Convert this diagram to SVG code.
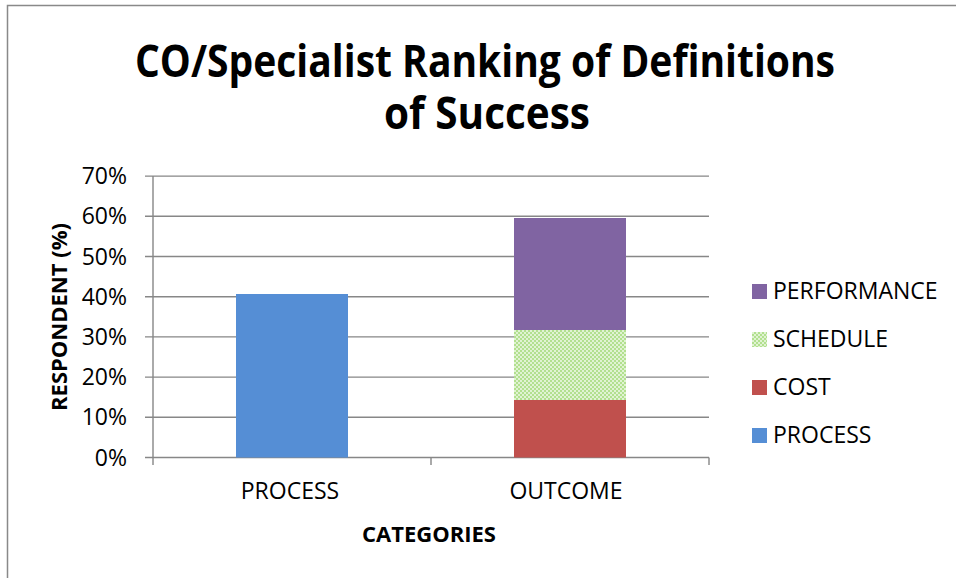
<svg xmlns="http://www.w3.org/2000/svg" width="956" height="578" viewBox="0 0 956 578">
<defs>
<style>
.t{font-family:"Open Sans","Liberation Sans",sans-serif;fill:#000}
.tick{font-size:23px;text-anchor:end}
.cat{font-size:23px;text-anchor:middle}
.leg{font-size:23px}
.bold{font-weight:700}
.grid{stroke:#878787;stroke-width:1.4;fill:none}
</style>
<pattern id="chk" width="4" height="4" patternUnits="userSpaceOnUse">
<rect width="4" height="4" fill="#B2E08F"/>
<rect width="2" height="2" fill="#E0F3D2"/>
<rect x="2" y="2" width="2" height="2" fill="#E0F3D2"/>
</pattern>
</defs>
<rect width="956" height="578" fill="#fff"/>
<g id="frame">
<path d="M7.5 578V5.5H956" stroke="#898989" stroke-width="1.5" fill="none"/>
</g>
<g id="title">
<text class="t bold" font-size="45" text-anchor="middle"><tspan x="485" y="77" textLength="700" lengthAdjust="spacingAndGlyphs">CO/Specialist Ranking of Definitions</tspan><tspan x="487" y="129" textLength="206" lengthAdjust="spacingAndGlyphs">of Success</tspan></text>
</g>
<g id="axes">
<path class="grid" d="M145 176.1H709M145 216.3H709M145 256.5H709M145 296.7H709M145 336.9H709M145 377.1H709M145 417.3H709M145 457.5H709"/>
<path class="grid" d="M153 176.1V465M431 457.5V465M709 457.5V465"/>
<text class="t tick" x="127" y="184">70%</text>
<text class="t tick" x="127" y="224">60%</text>
<text class="t tick" x="127" y="264.5">50%</text>
<text class="t tick" x="127" y="304.7">40%</text>
<text class="t tick" x="127" y="344.9">30%</text>
<text class="t tick" x="127" y="385.1">20%</text>
<text class="t tick" x="127" y="425.3">10%</text>
<text class="t tick" x="127" y="465.5">0%</text>
<text class="t bold" font-size="22" text-anchor="middle" transform="translate(67 317) rotate(-90)">RESPONDENT (%)</text>
<text class="t cat" x="290" y="499">PROCESS</text>
<text class="t cat" x="566" y="499">OUTCOME</text>
<text class="t bold" font-size="22" x="429" y="542" text-anchor="middle">CATEGORIES</text>
</g>
<g id="bar-process">
<rect x="236" y="294" width="112" height="163.5" fill="#558ED5"/>
</g>
<g id="bar-outcome">
<rect x="514" y="400" width="112" height="57.5" fill="#C0504D"/>
<rect x="514" y="330" width="112" height="70" fill="url(#chk)"/>
<rect x="514" y="218" width="112" height="112" fill="#8064A2"/>
</g>
<g id="legend">
<rect x="752" y="284" width="15" height="15" fill="#8064A2"/>
<text class="t leg" x="773" y="299">PERFORMANCE</text>
<rect x="752" y="332" width="15" height="15" fill="url(#chk)"/>
<text class="t leg" x="773" y="347">SCHEDULE</text>
<rect x="752" y="380" width="15" height="15" fill="#C0504D"/>
<text class="t leg" x="773" y="395">COST</text>
<rect x="752" y="428" width="15" height="15" fill="#558ED5"/>
<text class="t leg" x="773" y="443">PROCESS</text>
</g>
</svg>
